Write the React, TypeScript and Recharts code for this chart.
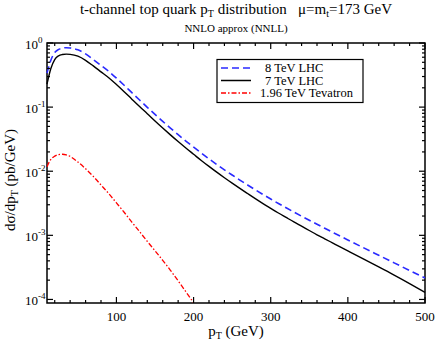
import { LineChart, Line, XAxis, YAxis, ReferenceArea } from 'recharts';

// transverse momentum grid (GeV)
const pT = [10, 15, 20, 25, 30, 35, 40, 50, 60, 70, 80, 90, 100, 110, 120, 130, 140, 150, 160, 170, 180, 190, 200, 210, 220, 230, 240, 250, 260, 270, 280, 290, 300, 310, 320, 330, 340, 350, 360, 370, 380, 390, 400, 420, 440, 460, 480, 500];

// dsigma/dpT (pb/GeV)
const lhc8 = [0.339, 0.54, 0.711, 0.794, 0.832, 0.845, 0.836, 0.783, 0.676, 0.552, 0.447, 0.361, 0.283, 0.219, 0.168, 0.129, 0.0993, 0.0769, 0.06, 0.0471, 0.0372, 0.0296, 0.0238, 0.0192, 0.0156, 0.01276, 0.01052, 0.00873, 0.00728, 0.0061, 0.00513, 0.00434, 0.00368, 0.00314, 0.00269, 0.00231, 0.00199, 0.00172, 0.00149, 0.00129, 0.00112, 0.000973, 0.000847, 0.000643, 0.000489, 0.000372, 0.000283, 0.000216];
const lhc7 = [0.229, 0.4, 0.552, 0.631, 0.661, 0.671, 0.664, 0.622, 0.537, 0.439, 0.355, 0.287, 0.225, 0.174, 0.133, 0.102, 0.0789, 0.0608, 0.0472, 0.0369, 0.029, 0.023, 0.0184, 0.01472, 0.01189, 0.00966, 0.00791, 0.00652, 0.0054, 0.00449, 0.00374, 0.00313, 0.00264, 0.00223, 0.0019, 0.00162, 0.00139, 0.00119, 0.00102, 0.000883, 0.000764, 0.000661, 0.000573, 0.00043, 0.000321, 0.00024, 0.000177, 0.000129];
// tevatron curve stops at 200 GeV
const tevatron = [0.01175, 0.0153, 0.01718, 0.0182, 0.0184, 0.018, 0.017, 0.01393, 0.01094, 0.0083, 0.00611, 0.00448, 0.00321, 0.00229, 0.00161, 0.00114, 0.000805, 0.000575, 0.000407, 0.000285, 0.000195, 0.000132, 0.000089];

const seriesNames = ['8 TeV LHC', '7 TeV LHC', '1.96 TeV Tevatron'];

const xTicks = [20, 40, 60, 80, 100, 120, 140, 160, 180, 200, 220, 240, 260, 280, 300, 320, 340, 360, 380, 400, 420, 440, 460, 480, 500];
const yDecades = [0.0001, 0.001, 0.01, 0.1];
const yTicks = [...yDecades.flatMap((d) => [1, 2, 3, 4, 5, 6, 7, 8, 9].map((k) => k * d)), 1];

const data = pT.map((p, i) => ({
    pT: p,
    lhc8: lhc8[i],
    lhc7: lhc7[i],
    tev: i < tevatron.length ? tevatron[i] : null,
}));

const W = 436;
const H = 341;
const PLOT = { left: 47, right: 425, top: 43, bottom: 303 };
const Y_MIN = 0.000088;
const FONT = 'Liberation Serif, Times New Roman, serif';

const XTick = ({ x, payload }: any) => {
    const major = payload.value % 100 === 0;
    const len = major ? 6 : 3;
    return (
        <g>
            <line x1={x} x2={x} y1={PLOT.bottom} y2={PLOT.bottom - len} stroke="#000" strokeWidth={1.2} />
            <line x1={x} x2={x} y1={PLOT.top} y2={PLOT.top + len} stroke="#000" strokeWidth={1.2} />
            {major && (
                <text x={x} y={PLOT.bottom + 18} textAnchor="middle" fontSize={13} fontFamily={FONT} fill="#000">
                    {payload.value}
                </text>
            )}
        </g>
    );
};

const YTick = ({ y, payload }: any) => {
    const e = Math.log10(payload.value);
    const major = Math.abs(e - Math.round(e)) < 1e-6;
    const len = major ? 6 : 3;
    return (
        <g>
            <line x1={PLOT.left} x2={PLOT.left + len} y1={y} y2={y} stroke="#000" strokeWidth={1.2} />
            <line x1={PLOT.right} x2={PLOT.right - len} y1={y} y2={y} stroke="#000" strokeWidth={1.2} />
            {major && (
                <text x={25} y={y + 5.5} fontSize={13} fontFamily={FONT} fill="#000">
                    <tspan>10</tspan>
                    <tspan dy={-6} fontSize={9}>{Math.round(e)}</tspan>
                </text>
            )}
        </g>
    );
};

const legendStyles = [
    { stroke: '#2a2aff', dash: '7 4' },
    { stroke: '#000', dash: undefined },
    { stroke: '#ff0000', dash: '5 2 1.5 2' },
];

export default function App() {
    return (
        <div style={{ position: 'absolute', left: 0, top: 0, background: '#fff' }}>
            <LineChart
                width={W}
                height={H}
                data={data}
                margin={{ top: PLOT.top, right: W - PLOT.right, bottom: 0, left: 7 }}
            >
                <XAxis
                    dataKey="pT"
                    type="number"
                    domain={[10, 500]}
                    ticks={xTicks}
                    interval={0}
                    tick={<XTick />}
                    tickLine={false}
                    axisLine={false}
                    height={H - PLOT.bottom}
                />
                <YAxis
                    type="number"
                    scale="log"
                    domain={[Y_MIN, 1]}
                    allowDataOverflow
                    ticks={yTicks}
                    interval={0}
                    tick={<YTick />}
                    tickLine={false}
                    axisLine={false}
                    width={PLOT.left - 7}
                />
                <ReferenceArea x1={10} x2={500} y1={Y_MIN} y2={1} fill="none" fillOpacity={0} stroke="#000" strokeWidth={1.5} />
                <Line dataKey="lhc8" name={seriesNames[0]} type="monotone" stroke="#2a2aff" strokeWidth={1.6} strokeDasharray="7 4" dot={false} isAnimationActive={false} />
                <Line dataKey="lhc7" name={seriesNames[1]} type="monotone" stroke="#000" strokeWidth={1.4} dot={false} isAnimationActive={false} />
                <Line dataKey="tev" name={seriesNames[2]} type="monotone" stroke="#ff0000" strokeWidth={1.3} strokeDasharray="5 2 1.5 2" dot={false} isAnimationActive={false} />

                <text x={236} y={14} textAnchor="middle" fontSize={15} fontFamily={FONT} fill="#000" style={{ whiteSpace: 'pre' }}>
                    t-channel top quark p<tspan dy={3} fontSize={10}>T</tspan>
                    <tspan dy={-3}> distribution   μ=m</tspan>
                    <tspan dy={3} fontSize={10}>t</tspan>
                    <tspan dy={-3}>=173 GeV</tspan>
                </text>
                <text x={236} y={31.5} textAnchor="middle" fontSize={11} fontFamily={FONT} fill="#000">NNLO approx (NNLL)</text>

                <text x={236} y={336} textAnchor="middle" fontSize={15} fontFamily={FONT} fill="#000">
                    p<tspan dy={3} fontSize={10}>T</tspan>
                    <tspan dy={-3}> (GeV)</tspan>
                </text>
                <text x={14.5} y={180} textAnchor="middle" fontSize={15} fontFamily={FONT} fill="#000" transform="rotate(-90 14.5 180)">
                    dσ/dp<tspan dy={3} fontSize={10}>T</tspan>
                    <tspan dy={-3}> (pb/GeV)</tspan>
                </text>

                <g>
                    <rect x={217} y={59.5} width={146} height={43} fill="#fff" stroke="#000" strokeWidth={1.2} />
                    {seriesNames.map((name, i) => {
                        const y = 68 + i * 12.5;
                        return (
                            <g key={name}>
                                <line x1={221} x2={251} y1={y} y2={y} stroke={legendStyles[i].stroke} strokeWidth={1.5} strokeDasharray={legendStyles[i].dash} />
                                <text x={i === 2 ? 260 : 265} y={y + 4} fontSize={12.5} fontFamily={FONT} fill="#000">{name}</text>
                            </g>
                        );
                    })}
                </g>
            </LineChart>
        </div>
    );
}
